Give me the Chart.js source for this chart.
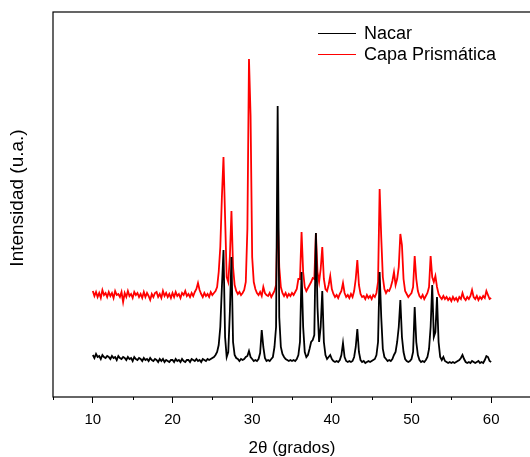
<!DOCTYPE html>
<html>
<head>
<meta charset="utf-8">
<script src="https://cdn.jsdelivr.net/npm/chart.js@4.4.1/dist/chart.umd.min.js"></script>
<style>
  html, body { margin: 0; padding: 0; background: #fff; overflow: hidden; }
  #wrap { position: relative; width: 536px; height: 457px; }
</style>
</head>
<body>
<div id="wrap"><canvas id="xrd"></canvas></div>
<script>
// 2theta scan: start, step (degrees)
const thetaStart = 10;
const thetaStep = 0.2;

const seriesNames = ['Nacar', 'Capa Prismática'];
const seriesColors = ['#000000', '#ff0000'];
const yTitle = 'Intensidad (u.a.)';
const xTitle = '2θ (grados)';

// intensidad (u.a.), one value per step, 10.0 .. 60.0
const nacar = [
  42,39,43,40,41,38,42,40,39,41,   // 10
  40,38,41,39,40,37,41,39,38,40,   // 12
  39,37,40,38,39,36,40,38,37,39,   // 14
  38,36,39,37,38,36,39,37,36,38,   // 16
  37,35,38,36,38,35,37,36,35,37,   // 18
  37,35,38,36,37,35,38,36,35,37,   // 20
  37,35,38,37,36,38,36,37,35,38,   // 22
  37,36,38,37,38,39,40,42,45,52,   // 24
  70,110,147,60,40,45,85,140,55,42,   // 26
  39,38,36,38,37,38,40,41,46,40,   // 28
  38,36,37,36,38,44,67,50,39,36,   // 30
  37,36,38,40,50,70,291,80,50,43,   // 32
  40,38,37,36,37,36,37,36,38,42,   // 34
  55,125,70,45,40,42,48,55,57,62,   // 36
  164,90,55,70,106,55,42,38,40,42,   // 38
  38,36,35,36,35,37,42,54,40,36,   // 40
  35,36,35,36,40,50,68,45,37,35,   // 42
  36,34,35,36,35,36,37,38,42,55,   // 44
  125,80,48,40,38,36,37,36,38,42,   // 46
  45,55,70,97,60,45,38,36,35,36,   // 48
  38,45,90,55,42,37,35,36,35,37,   // 50
  40,48,70,112,60,65,100,55,40,37,   // 52
  40,36,35,34,35,34,35,34,35,36,   // 54
  37,39,42,38,35,34,35,34,36,35,   // 56
  34,35,36,34,35,34,37,41,40,36,   // 58
  35                               // 60
];

const capa = [
  106,101,105,100,104,99,107,102,104,100,   // 10
  105,101,104,99,106,102,103,100,105,95,    // 12
  104,100,106,101,103,99,105,102,104,100,   // 14
  103,99,105,100,104,101,97,103,100,104,    // 16
  105,100,103,99,106,101,104,100,103,99,    // 18
  104,100,105,101,103,99,104,102,106,101,   // 20
  103,100,104,101,105,108,114,107,103,100,  // 22
  104,101,103,100,105,102,104,106,110,125,  // 24
  150,200,240,180,120,115,140,186,130,112,  // 26
  106,103,105,102,104,107,115,168,338,281,  // 28
  140,115,108,104,102,105,101,110,104,102,  // 30
  101,104,100,103,106,112,185,130,110,104,  // 32
  101,104,100,103,101,104,102,105,108,118,  // 34
  118,165,125,110,106,109,112,115,119,118,  // 36
  164,125,115,128,150,118,108,106,112,121,  // 38
  108,103,100,102,99,103,106,114,104,100,   // 40
  102,99,103,100,106,118,137,112,103,100,   // 42
  101,98,102,99,101,98,102,100,104,115,     // 44
  208,160,120,108,104,107,106,110,116,125,  // 46
  112,118,130,163,152,118,106,103,100,102,  // 48
  104,110,141,118,106,101,99,102,98,101,    // 50
  104,110,141,120,115,121,110,103,100,98,   // 52
  101,98,100,97,99,96,100,97,99,96,         // 54
  100,98,104,99,97,100,98,101,107,100,      // 56
  98,101,97,100,98,101,99,106,102,98,       // 58
  99                                        // 60
];

const majorTicks = [10, 20, 30, 40, 50, 60];
const minorTicks = [5, 15, 25, 35, 45, 55, 65];

const FONT = "'Liberation Sans', Arial, sans-serif";

function toPoints(values){
  var pts = [];
  for (var i = 0; i < values.length; i++){
    pts.push({ x: +(thetaStart + i * thetaStep).toFixed(1), y: values[i] });
  }
  return pts;
}

// marco, ticks menores, titulo Y y leyenda
const framePlugin = {
  id: 'frame',
  afterDraw(chart){
    const ctx = chart.ctx;
    const a = chart.chartArea;
    const xs = chart.scales.x;
    ctx.save();
    ctx.strokeStyle = '#000';
    ctx.lineWidth = 1.2;
    ctx.strokeRect(a.left, a.top, a.right - a.left, a.bottom - a.top);

    ctx.lineWidth = 1;
    ctx.beginPath();
    minorTicks.forEach(function(v){
      var px = Math.round(xs.getPixelForValue(v)) + 0.5;
      ctx.moveTo(px, a.bottom);
      ctx.lineTo(px, a.bottom + 3);
    });
    ctx.stroke();

    // titulo eje Y
    ctx.save();
    ctx.translate(18, 198);
    ctx.rotate(-Math.PI / 2);
    ctx.font = '19px ' + FONT;
    ctx.fillStyle = '#000';
    ctx.textAlign = 'center';
    ctx.textBaseline = 'middle';
    ctx.fillText(yTitle, 0, 0);
    ctx.restore();

    // leyenda
    ctx.font = '18px ' + FONT;
    ctx.textBaseline = 'middle';
    ctx.textAlign = 'left';
    var ly = [33, 54];
    chart.data.datasets.forEach(function(ds, k){
      ctx.strokeStyle = ds.borderColor;
      ctx.lineWidth = 1;
      ctx.beginPath();
      ctx.moveTo(318, ly[k] + 0.5);
      ctx.lineTo(356, ly[k] + 0.5);
      ctx.stroke();
      ctx.fillStyle = '#000';
      ctx.fillText(ds.label, 364, ly[k] + 1);
    });
    ctx.restore();
  }
};

new Chart(document.getElementById('xrd'), {
  type: 'line',
  data: {
    datasets: [
      {
        label: seriesNames[0],
        data: toPoints(nacar),
        borderColor: seriesColors[0],
        borderWidth: 1.8,
        pointRadius: 0,
        tension: 0
      },
      {
        label: seriesNames[1],
        data: toPoints(capa),
        borderColor: seriesColors[1],
        borderWidth: 1.8,
        pointRadius: 0,
        tension: 0
      }
    ]
  },
  options: {
    responsive: true,
    maintainAspectRatio: false,
    animation: false,
    layout: { padding: { top: 12, right: 5, left: 0, bottom: 0 } },
    plugins: {
      legend: { display: false },
      tooltip: { enabled: false }
    },
    scales: {
      x: {
        type: 'linear',
        min: 5,
        max: 65,
        afterBuildTicks: function(scale){
          scale.ticks = majorTicks.map(function(v){ return { value: v }; });
        },
        afterFit: function(scale){ scale.height = 60; },
        grid: {
          display: true,
          drawOnChartArea: false,
          drawTicks: true,
          tickLength: 6,
          color: '#000',
          lineWidth: 1
        },
        border: { display: false },
        ticks: {
          color: '#000',
          padding: 8,
          maxRotation: 0,
          font: { family: FONT, size: 15 }
        },
        title: {
          display: true,
          text: xTitle,
          color: '#000',
          padding: { top: 0, bottom: 0 },
          font: { family: FONT, size: 17, lineHeight: 1 }
        }
      },
      y: {
        min: 0,
        max: 385,
        afterFit: function(scale){ scale.width = 53; },
        grid: { display: false },
        border: { display: false },
        ticks: { display: false },
        title: { display: false }
      }
    }
  },
  plugins: [framePlugin]
});
</script>
</body>
</html>
